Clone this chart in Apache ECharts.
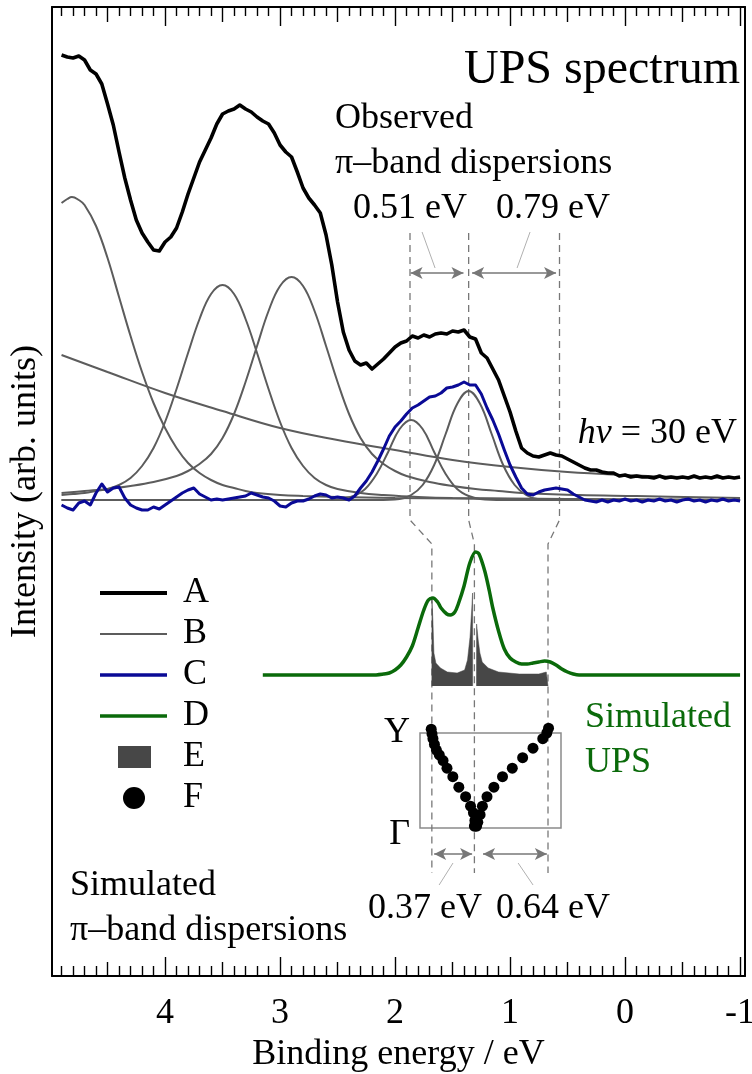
<!DOCTYPE html>
<html>
<head>
<meta charset="utf-8">
<script src="https://cdn.jsdelivr.net/npm/echarts/dist/echarts.min.js"></script>
<style>
  html, body { margin: 0; padding: 0; background: #fff; }
  #chart { width: 752px; height: 1074px; }
</style>
</head>
<body>
<div id="chart"></div>
<script>
// ---------- axis ticks ----------
const majorTicks = [4, 3, 2, 1, 0, -1];
const mediumTicks = [4.5, 3.5, 2.5, 1.5, 0.5, -0.5];
const minorTicks = [];
for (let i = -10; i <= 49; i++) { if (i % 5 !== 0) minorTicks.push(i / 10); }

// ---------- measured spectra (binding energy grid 4.90 ... -1.00 eV, step 0.05) ----------
const energyGrid = [];
for (let i = 0; i <= 118; i++) energyGrid.push(Math.round((4.90 - 0.05 * i) * 100) / 100);

// A: total UPS spectrum
const spectrumA = [
  921, 919, 918, 920, 916, 906, 902, 892, 872, 851,
  824, 798, 776, 756, 743, 734, 726, 725, 734, 739,
  748, 764, 782, 798, 814, 826, 838, 852, 862, 865,
  867, 871, 867, 864, 859, 855, 852, 843, 831, 824,
  819, 804, 788, 778, 771, 763, 741, 711, 674, 644,
  626, 615, 611, 613, 607, 612, 617, 623, 629, 633,
  635, 640, 638, 641, 639, 642, 643, 642, 645, 644,
  646, 639, 637, 623, 618, 607, 596, 580, 564, 545,
  528, 523, 520, 519, 521, 523, 521, 520, 517, 514,
  511, 508, 506, 506, 504, 503, 503, 500, 501, 499,
  500, 499, 499, 498, 500, 498, 499, 498, 499, 498,
  500, 498, 499, 498, 500, 498, 499, 498, 499
];

// C: spectrum after subtraction of the fitted components
const spectrumC = [
  471, 468, 466, 473, 475, 471, 483, 492, 484, 488,
  489, 478, 471, 468, 466, 466, 469, 467, 471, 475,
  479, 483, 486, 488, 482, 479, 476, 477, 476, 477,
  478, 479, 480, 483, 481, 479, 478, 475, 470, 469,
  473, 475, 475, 477, 480, 482, 481, 478, 479, 478,
  476, 480, 488, 495, 504, 515, 527, 540, 549, 555,
  562, 568, 571, 575, 579, 580, 583, 588, 589, 591,
  594, 591, 591, 582, 568, 556, 542, 526, 511, 499,
  488, 482, 481, 484, 486, 487, 488, 487, 486, 482,
  479, 476, 475, 474, 476, 474, 476, 475, 477, 475,
  476, 474, 476, 475, 477, 475, 476, 474, 476, 477,
  475, 476, 474, 476, 475, 477, 475, 476, 475
];

// B: fitted components [binding energy, intensity]
const fitPeak1 = [[4.90,773],[4.85,777],[4.81,779],[4.75,776],[4.70,771],[4.60,750],[4.50,718],[4.40,679],[4.30,640],[4.20,604],[4.10,573],[4.00,548],[3.90,528],[3.80,513],[3.70,503],[3.60,496],[3.50,491],[3.40,488],[3.30,485],[3.20,483],[3.00,481],[2.80,480],[2.50,479],[2.00,478],[1.00,477],[-1.00,476]];
const fitPeak2 = [[4.90,481],[4.80,482],[4.70,483],[4.60,485],[4.50,487],[4.40,491],[4.30,498],[4.20,510],[4.10,528],[4.00,554],[3.90,587],[3.80,623],[3.70,657],[3.60,682],[3.50,691],[3.40,682],[3.30,657],[3.20,623],[3.10,587],[3.00,554],[2.90,528],[2.80,510],[2.70,498],[2.60,491],[2.50,487],[2.30,483],[2.10,481],[1.80,479],[1.50,478],[0.50,477],[-1.00,476]];
const fitPeak3 = [[4.90,483],[4.70,485],[4.50,487],[4.30,490],[4.10,494],[3.90,500],[3.80,505],[3.70,512],[3.60,522],[3.50,538],[3.40,562],[3.30,594],[3.20,630],[3.10,665],[3.00,690],[2.90,699],[2.80,690],[2.70,665],[2.60,630],[2.50,594],[2.40,562],[2.30,538],[2.20,522],[2.10,512],[2.00,505],[1.90,500],[1.70,494],[1.50,490],[1.30,487],[1.10,485],[0.90,483],[0.40,481],[-0.10,480],[-1.00,478]];
const fitPeak4 = [[4.90,476],[2.86,476],[2.66,476],[2.46,477],[2.36,480],[2.26,487],[2.16,502],[2.06,524],[1.96,547],[1.86,556],[1.76,547],[1.66,524],[1.56,502],[1.46,487],[1.36,480],[1.26,477],[1.06,476],[0.86,476],[-1.00,476]];
const fitPeak5 = [[4.90,476],[2.36,476],[2.16,476],[1.96,477],[1.86,481],[1.76,491],[1.66,511],[1.56,542],[1.46,572],[1.36,585],[1.26,572],[1.16,542],[1.06,511],[0.96,491],[0.86,481],[0.76,477],[0.56,476],[0.36,476],[-1.00,476]];
const fitBackground = [[4.90,621],[4.50,604],[4.00,583],[3.50,565],[3.00,548],[2.50,536],[2.00,526],[1.50,516],[1.00,509],[0.50,504],[0.00,501],[-0.50,499],[-1.00,498]];

// D: simulated UPS spectrum
const simulatedUPS = [[3.15,301],[3.00,301],[2.60,301],[2.20,301],[2.10,302],[2.05,303],[2.00,306],[1.95,311],[1.90,319],[1.85,330],[1.80,348],[1.75,366],[1.71,376],[1.67,378],[1.63,374],[1.60,368],[1.55,362],[1.52,361],[1.48,364],[1.45,372],[1.40,390],[1.35,413],[1.30,424],[1.27,422],[1.22,405],[1.18,385],[1.15,368],[1.10,345],[1.05,327],[1.00,318],[0.95,314],[0.90,312],[0.85,312],[0.80,313],[0.75,314],[0.70,315],[0.65,314],[0.60,311],[0.55,307],[0.50,304],[0.45,302],[0.40,301],[0.30,301],[0.00,301],[-0.50,301],[-1.00,301]];

// E: density of states of the two pi bands
const dosBase = 290;
const dosLower = [[1.680,290],[1.679,376],[1.671,356],[1.662,323],[1.645,313],[1.605,308],[1.545,304],[1.460,303],[1.395,306],[1.370,316],[1.348,339],[1.332,369],[1.326,383],[1.325,290]];
const dosUpper = [[1.292,290],[1.291,352],[1.277,336],[1.262,323],[1.242,314],[1.190,308],[1.100,304],[0.920,302],[0.750,302],[0.685,304],[0.671,305],[0.670,290]];

// F: band dispersions between Gamma (k = 0) and Y (k = 1)
const bandLower = [[1.685,1.04],[1.678,0.99],[1.670,0.94],[1.657,0.88],[1.640,0.82],[1.615,0.77],[1.582,0.71],[1.548,0.63],[1.497,0.54],[1.445,0.43],[1.386,0.33],[1.343,0.23],[1.318,0.16],[1.305,0.08],[1.300,0.02]];
const bandUpper = [[0.665,1.05],[0.680,1.00],[0.715,0.94],[0.800,0.84],[0.890,0.74],[0.980,0.63],[1.065,0.54],[1.140,0.43],[1.200,0.33],[1.240,0.23],[1.260,0.14],[1.280,0.06],[1.310,0.02],[1.290,0.02]];

// band-edge energies used for the dispersion widths
const observedEdges = [1.87, 1.36, 0.57];
const simulatedEdges = [1.68, 1.31, 0.67];

// ---------- drawing ----------
const FONT = '"Liberation Serif", "Times New Roman", "DejaVu Serif", serif';
const X_MIN = -1.043, X_MAX = 4.983;
const GRAY = '#5c5c5c', BLUE = '#0a0a96', GREEN = '#0a6a0a', DOS = '#474747', GUIDE = '#777777';

const pairs = (xs, ys) => xs.map((x, i) => [x, ys[i]]);
const width = (a, b) => Math.abs(a - b).toFixed(2) + ' eV';

function tickAxis(position, values, len, extra) {
  return Object.assign({
    type: 'value', gridIndex: 0, position: position, min: X_MIN, max: X_MAX, inverse: true,
    axisLine: { show: false, onZero: false },
    axisTick: { show: true, inside: true, length: len, customValues: values, lineStyle: { color: '#000', width: 1.4 } },
    axisLabel: { show: false }, splitLine: { show: false }
  }, extra || {});
}

const xAxes = [
  tickAxis('bottom', majorTicks, 19, {
    axisLine: { show: true, onZero: false, lineStyle: { color: '#000', width: 2 } },
    axisLabel: { show: true, customValues: majorTicks, formatter: v => String(v), fontSize: 36, fontFamily: FONT, color: '#000', margin: 20 },
    name: 'Binding energy / eV', nameLocation: 'middle', nameGap: 58,
    nameTextStyle: { fontSize: 36, fontFamily: FONT, color: '#000' }
  }),
  tickAxis('bottom', mediumTicks, 14),
  tickAxis('bottom', minorTicks, 10),
  tickAxis('top', majorTicks, 19, { axisLine: { show: true, onZero: false, lineStyle: { color: '#000', width: 2 } } }),
  tickAxis('top', mediumTicks, 15),
  tickAxis('top', minorTicks, 9),
  // inset: dispersion box
  { type: 'value', gridIndex: 1, min: 0.5565, max: 1.7826, inverse: true, show: false }
];

const yAxes = [
  { type: 'value', gridIndex: 0, position: 'left', min: 0, max: 969,
    axisLine: { show: true, onZero: false, lineStyle: { color: '#000', width: 2 } },
    axisTick: { show: false }, axisLabel: { show: false }, splitLine: { show: false },
    name: 'Intensity (arb. units)', nameLocation: 'middle', nameGap: 8,
    nameTextStyle: { fontSize: 36, fontFamily: FONT, color: '#000' } },
  { type: 'value', gridIndex: 0, position: 'right', min: 0, max: 969,
    axisLine: { show: true, onZero: false, lineStyle: { color: '#000', width: 2 } },
    axisTick: { show: false }, axisLabel: { show: false }, splitLine: { show: false } },
  { type: 'value', gridIndex: 1, min: 0, max: 1,
    axisLine: { show: false }, axisTick: { show: false }, splitLine: { show: false },
    axisLabel: { show: true, customValues: [0, 1], formatter: v => (v === 1 ? '{y|Y}' : '{g|Γ}'),
      fontSize: 36, fontFamily: FONT, color: '#000', margin: 10,
      rich: { y: { fontSize: 36, fontFamily: FONT }, g: { fontSize: 36, fontFamily: FONT, padding: [14, 0, 0, 0] } } } }
];

const base = { type: 'line', symbol: 'none', xAxisIndex: 0, yAxisIndex: 0, silent: true };

const series = [];
[fitPeak1, fitPeak2, fitPeak3, fitPeak4, fitPeak5, fitBackground].forEach(d => {
  series.push(Object.assign({}, base, { name: 'B', data: d, smooth: 0.4, z: 2,
    lineStyle: { color: GRAY, width: 2 }, itemStyle: { color: GRAY } }));
});
series.push(Object.assign({}, base, { name: 'C', data: pairs(energyGrid, spectrumC), z: 3,
  lineStyle: { color: BLUE, width: 3, join: 'round' }, itemStyle: { color: BLUE } }));
series.push(Object.assign({}, base, { name: 'A', data: pairs(energyGrid, spectrumA), z: 4,
  lineStyle: { color: '#000', width: 3.6, join: 'round' }, itemStyle: { color: '#000' } }));
[dosLower, dosUpper].forEach(d => {
  series.push(Object.assign({}, base, { name: 'E', data: d, z: 2,
    lineStyle: { color: DOS, width: 0.5 }, itemStyle: { color: DOS },
    areaStyle: { color: DOS, opacity: 1, origin: dosBase } }));
});
series.push(Object.assign({}, base, { name: 'D', data: simulatedUPS, smooth: 0.3, z: 4,
  lineStyle: { color: GREEN, width: 3.5 }, itemStyle: { color: GREEN } }));

// dashed guides linking observed and simulated band edges
observedEdges.forEach((e, i) => {
  const s = simulatedEdges[i];
  series.push(Object.assign({}, base, { name: 'guide' + i, z: 1,
    data: [[e, 743], [e, 456], [s, 432], [s, 103]],
    lineStyle: { color: GUIDE, width: 1.3, type: [7, 5] } }));
});

// double arrows and pointer lines
const arrow = (a, b, v) => [{ coord: [a, v] }, { coord: [b, v] }];
series.push(Object.assign({}, base, { name: 'arrows', data: [],
  markLine: { silent: true, symbol: ['arrow', 'arrow'], symbolSize: [9, 12], label: { show: false },
    lineStyle: { color: GUIDE, width: 1.6, type: 'solid' },
    data: [
      arrow(observedEdges[0] - 0.005, observedEdges[1] + 0.045, 703),
      arrow(observedEdges[1] - 0.03, observedEdges[2] + 0.03, 703),
      arrow(simulatedEdges[0] - 0.02, simulatedEdges[1] + 0.02, 122),
      arrow(simulatedEdges[1] - 0.075, simulatedEdges[2] + 0.01, 122)
    ] } }));
const pointer = (a, va, b, vb) => [{ coord: [a, va] }, { coord: [b, vb] }];
series.push(Object.assign({}, base, { name: 'pointers', data: [],
  markLine: { silent: true, symbol: ['none', 'none'], label: { show: false },
    lineStyle: { color: '#b0b0b0', width: 1, type: 'solid' },
    data: [
      pointer(1.765, 744, 1.652, 708),
      pointer(0.826, 744, 0.939, 708),
      pointer(1.496, 113, 1.617, 91),
      pointer(0.930, 113, 0.800, 91)
    ] } }));

series.push({ type: 'scatter', name: 'F', xAxisIndex: 6, yAxisIndex: 2, silent: true, clip: false,
  data: bandLower.concat(bandUpper), symbolSize: 11, itemStyle: { color: '#000', opacity: 1 }, z: 5 });

const txt = (x, y, text, extra) => ({ type: 'text', x: x, y: y, silent: true,
  style: Object.assign({ text: text, fontSize: 36, fontFamily: FONT, fill: '#000', align: 'left', verticalAlign: 'middle' }, extra || {}) });

// legend icons: bar of given thickness across the 67 x 22 icon box
const barIcon = h => 'path://M0,0M67,22M0,' + (11 - h / 2) + 'h67v' + h + 'h-67z';

const option = {
  animation: false,
  textStyle: { fontFamily: FONT },
  grid: [
    { left: 52, right: 7, top: 7, bottom: 98, show: false, containLabel: false, outerBoundsMode: 'none' },
    { left: 420, top: 733, width: 141, height: 95, show: true, containLabel: false, outerBoundsMode: 'none',
      borderColor: '#8a8a8a', borderWidth: 1.5, backgroundColor: 'transparent' }
  ],
  xAxis: xAxes,
  yAxis: yAxes,
  legend: {
    orient: 'vertical', left: 95, top: 570, itemWidth: 67, itemHeight: 22, itemGap: 5,
    selectedMode: false, symbolKeepAspect: false,
    textStyle: { fontSize: 36, fontFamily: FONT, color: '#000', lineHeight: 36, padding: [0, 0, 0, 11] },
    data: [
      { name: 'A', icon: barIcon(4), itemStyle: { color: '#000', borderWidth: 0 } },
      { name: 'B', icon: barIcon(2.2), itemStyle: { color: GRAY, borderWidth: 0 } },
      { name: 'C', icon: barIcon(3.5), itemStyle: { color: BLUE, borderWidth: 0 } },
      { name: 'D', icon: barIcon(3.5), itemStyle: { color: GREEN, borderWidth: 0 } },
      { name: 'E', icon: 'path://M0,0M67,22M18,0h33v22h-33z', itemStyle: { color: DOS, borderWidth: 0 } },
      { name: 'F', icon: 'path://M0,0M67,22M45,11A11,11,0,1,1,23,11A11,11,0,1,1,45,11Z', itemStyle: { color: '#000', borderWidth: 0 } }
    ]
  },
  graphic: [
    txt(740, 70, 'UPS spectrum', { fontSize: 48, align: 'right' }),
    txt(335, 119, 'Observed'),
    txt(335, 164, 'π–band dispersions'),
    txt(410, 209, width(observedEdges[0], observedEdges[1]), { align: 'center' }),
    txt(553, 209, width(observedEdges[1], observedEdges[2]), { align: 'center' }),
    txt(737, 434, '{i|hν} = 30 eV', { align: 'right',
      rich: { i: { fontStyle: 'italic', fontSize: 36, fontFamily: FONT, fill: '#000' } } }),
    txt(585, 718, 'Simulated', { fill: GREEN }),
    txt(585, 763, 'UPS', { fill: GREEN }),
    txt(425, 909, width(simulatedEdges[0], simulatedEdges[1]), { align: 'center' }),
    txt(553, 909, width(simulatedEdges[1], simulatedEdges[2]), { align: 'center' }),
    txt(70, 886, 'Simulated'),
    txt(70, 931, 'π–band dispersions')
  ],
  series: series
};

const chart = echarts.init(document.getElementById('chart'), null, { renderer: 'canvas' });
chart.setOption(option);
</script>
</body>
</html>
